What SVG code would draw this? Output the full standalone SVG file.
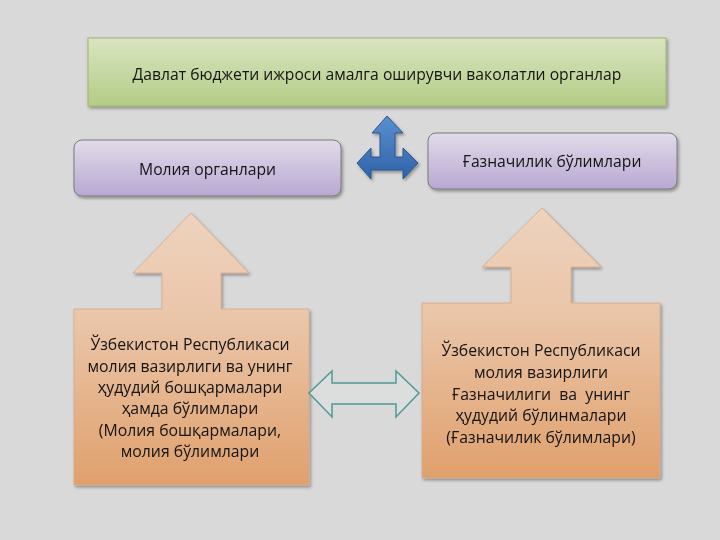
<svg xmlns="http://www.w3.org/2000/svg" width="720" height="540" viewBox="0 0 720 540">
<style>
  text { font-family: "Open Sans", "Noto Sans", "DejaVu Sans", sans-serif; fill: #141414; text-anchor: middle; }
  .t15 { font-size: 15.7px; }
  .t16 { font-size: 15.8px; }
</style>
<defs>
  <linearGradient id="gGreen" x1="0" y1="0" x2="0" y2="1">
    <stop offset="0" stop-color="#d9e5c2"/>
    <stop offset="1" stop-color="#b3cc85"/>
  </linearGradient>
  <linearGradient id="gPurple" x1="0" y1="0" x2="0" y2="1">
    <stop offset="0" stop-color="#e2dbe9"/>
    <stop offset="1" stop-color="#b8a8d2"/>
  </linearGradient>
  <linearGradient id="gPeachL" gradientUnits="userSpaceOnUse" x1="0" y1="213" x2="0" y2="485">
    <stop offset="0" stop-color="#eed3be"/>
    <stop offset="0.4" stop-color="#eac5a8"/>
    <stop offset="1" stop-color="#e0a06c"/>
  </linearGradient>
  <linearGradient id="gPeachR" gradientUnits="userSpaceOnUse" x1="0" y1="208" x2="0" y2="478">
    <stop offset="0" stop-color="#eed3be"/>
    <stop offset="0.4" stop-color="#eac5a8"/>
    <stop offset="1" stop-color="#e0a06c"/>
  </linearGradient>
  <linearGradient id="gBlue" x1="0" y1="0" x2="0" y2="1">
    <stop offset="0" stop-color="#5a8fd0"/>
    <stop offset="1" stop-color="#2f63a8"/>
  </linearGradient>
  <filter id="sh" x="-10%" y="-10%" width="120%" height="130%">
    <feDropShadow dx="1.5" dy="2" stdDeviation="1.5" flood-color="#000" flood-opacity="0.35"/>
  </filter>
</defs>
<rect x="0" y="0" width="720" height="540" fill="#d9d9d9"/>

<g id="node-top" filter="url(#sh)">
  <rect x="88" y="38" width="578" height="68" fill="url(#gGreen)" stroke="#9eb46a" stroke-width="1"/>
  <text class="t15" x="377" y="80">Давлат бюджети ижроси амалга оширувчи ваколатли органлар</text>
</g>

<g id="node-molia" filter="url(#sh)">
  <rect x="74" y="140" width="267" height="56" rx="8" fill="url(#gPurple)" stroke="#7a7a7a" stroke-width="1"/>
  <text class="t15" x="207.5" y="175">Молия органлари</text>
</g>

<g id="node-gazna" filter="url(#sh)">
  <rect x="428" y="133" width="249" height="56" rx="8" fill="url(#gPurple)" stroke="#7a7a7a" stroke-width="1"/>
  <text class="t15" x="552" y="167">Ғазначилик бўлимлари</text>
</g>

<g id="node-vazirlik" filter="url(#sh)">
  <path d="M191,213 L249,273 L221,273 L221,309 L309,309 L309,485 L74,485 L74,309 L162,309 L162,273 L133,273 Z" fill="url(#gPeachL)" stroke="#d4a889" stroke-width="0.8"/>
  <text class="t16" x="190" y="350">Ўзбекистон Республикаси</text>
  <text class="t16" x="190" y="372">молия вазирлиги ва унинг</text>
  <text class="t16" x="190" y="393">ҳудудий бошқармалари</text>
  <text class="t16" x="190" y="414">ҳамда бўлимлари</text>
  <text class="t16" x="190" y="436">(Молия бошқармалари,</text>
  <text class="t16" x="190" y="457">молия бўлимлари</text>
</g>

<g id="node-gaznachilik" filter="url(#sh)">
  <path d="M542,208 L601,267 L571,267 L571,303 L660,303 L660,478 L422,478 L422,303 L511,303 L511,267 L482,267 Z" fill="url(#gPeachR)" stroke="#d4a889" stroke-width="0.8"/>
  <text class="t16" x="541" y="356">Ўзбекистон Республикаси</text>
  <text class="t16" x="541" y="378">молия вазирлиги</text>
  <text class="t16" x="541" y="400" xml:space="preserve">Ғазначилиги  ва  унинг</text>
  <text class="t16" x="541" y="421">ҳудудий бўлинмалари</text>
  <text class="t16" x="541" y="443">(Ғазначилик бўлимлари)</text>
</g>

<g id="connectors">
  <path d="M387,116 L403,133 L395,133 L395,157 L403,157 L403,148 L418,163 L403,179 L403,170 L371,170 L371,179 L357,163 L371,148 L371,157 L380,157 L380,133 L372,133 Z" fill="url(#gBlue)" stroke="#2a5590" stroke-width="1" filter="url(#sh)"/>
  <path d="M309,393 L332,371 L332,383 L396,383 L396,371 L419,393 L396,417 L396,404 L332,404 L332,417 Z" fill="#dcdede" stroke="#4f9a94" stroke-width="1.5"/>
</g>
</svg>
